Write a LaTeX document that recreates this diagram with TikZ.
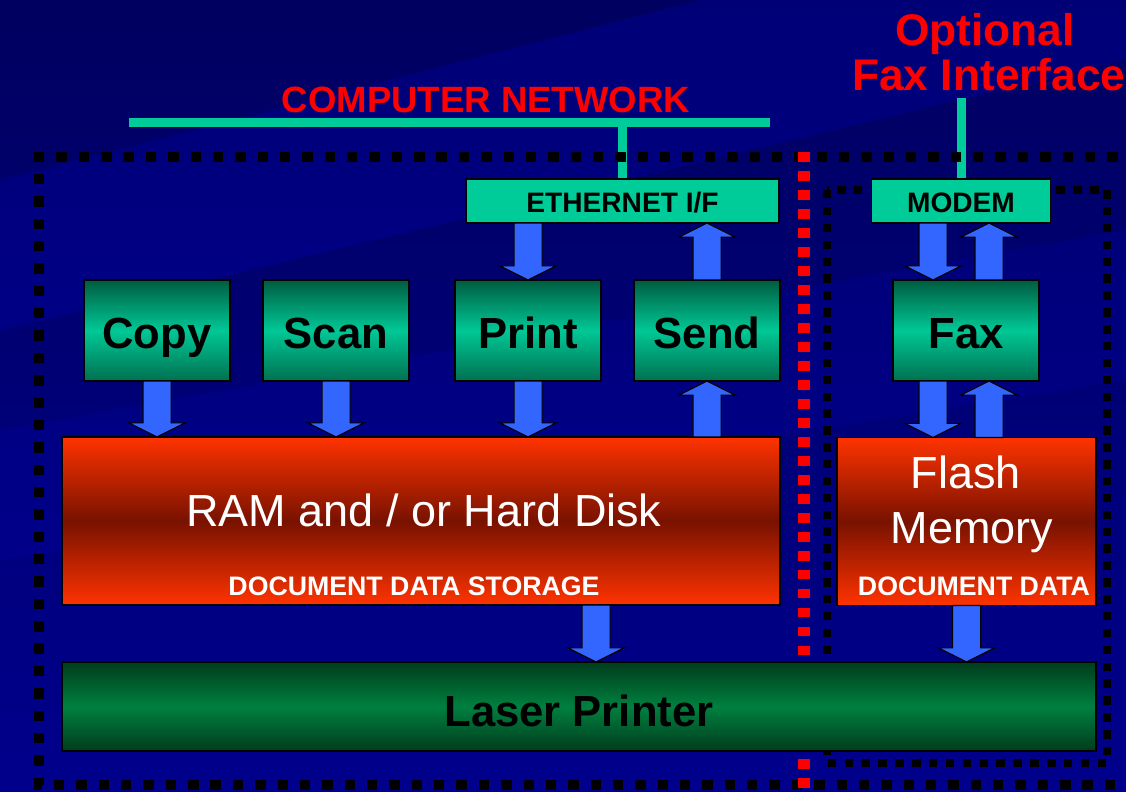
\documentclass[tikz,border=0pt]{standalone}
\usepackage{fontspec}
\setmainfont{Liberation Sans}
\usetikzlibrary{calc}

\definecolor{navytop}{HTML}{000060}
\definecolor{navybot}{HTML}{00008C}
\definecolor{netteal}{HTML}{00CC99}
\definecolor{arrowblue}{HTML}{3366FF}
\definecolor{funcdark}{HTML}{005C40}
\definecolor{funclight}{HTML}{00C896}
\definecolor{funclow}{HTML}{007050}
\definecolor{memtop}{HTML}{FF3300}
\definecolor{memmid}{HTML}{781200}
\definecolor{printdark}{HTML}{003C1C}
\definecolor{printmid}{HTML}{008040}

\pgfdeclarelayer{bg}
\pgfdeclarelayer{lines}
\pgfsetlayers{bg,lines,main}

% block arrow: sign (+ down, - up), from, to
\newcommand{\blkarrow}[3]{%
  \draw[blockarrow] let \p1=#2, \p2=#3 in
    ({\x1-10pt},\y1) -- ({\x1-10pt},{\y2 #1 10pt}) -- ({\x1-20pt},{\y2 #1 10pt})
    -- (\x1,\y2) -- ({\x1+20pt},{\y2 #1 10pt}) -- ({\x1+10pt},{\y2 #1 10pt})
    -- ({\x1+10pt},\y1) -- cycle;}

\begin{document}
\begin{tikzpicture}[x=0.025cm,y=-0.025cm,
funcnode/.style={draw=black, line width=1pt, top color=funcdark, bottom color=funclow, middle color=funclight,
  minimum width=3.65cm, minimum height=2.525cm, inner sep=0pt, outer sep=0pt,
  font=\bfseries\fontsize{31}{31}\selectfont, text height=26pt, text depth=0pt},
ifnode/.style={draw=black, line width=1pt, fill=netteal, minimum height=1.1cm, inner sep=0pt, outer sep=0pt,
  font=\bfseries\fontsize{20}{20}\selectfont, text height=17pt, text depth=0pt},
memnode/.style={draw=black, line width=1pt, top color=memtop, bottom color=memtop, middle color=memmid,
  minimum height=4.2cm, inner sep=0pt, outer sep=0pt},
printnode/.style={draw=black, line width=1pt, top color=printdark, bottom color=printdark, middle color=printmid,
  minimum width=25.85cm, minimum height=2.225cm, inner sep=0pt, outer sep=0pt,
  font=\bfseries\fontsize{31}{31}\selectfont, text height=28pt, text depth=0pt},
memtext/.style={text=white, font=\fontsize{32}{32}\selectfont, inner sep=0pt},
datatext/.style={text=white, font=\bfseries\fontsize{19}{19}\selectfont, inner sep=0pt},
redtitle/.style={text=red, font=\bfseries\fontsize{26}{26}\selectfont, inner sep=0pt},
faxtitle/.style={text=red, font=\bfseries\fontsize{31.5}{31.5}\selectfont, inner sep=0pt},
netline/.style={netteal, line width=6.4pt},
outerdots/.style={black, line width=7.4pt, dash pattern=on 7.4pt off 8.5pt},
innerdots/.style={black, line width=6pt, dash pattern=on 6pt off 6pt},
reddots/.style={red, line width=8.5pt, dash pattern=on 7pt off 6.5pt},
blockarrow/.style={fill=arrowblue, draw=black, line width=0.8pt, line join=miter}
]
\useasboundingbox (0,0) rectangle (1126,791);

% background
\begin{pgfonlayer}{bg}
\shade[top color=navytop, bottom color=navybot] (0,0) rectangle (1126,791);
\fill[blue!70!navybot, opacity=0.18] (0,180) -- (700,0) -- (1126,0) -- (1126,60) -- (0,330) -- cycle;
\fill[blue!70!navybot, opacity=0.12] (0,430) -- (1126,230) -- (1126,380) -- (0,560) -- cycle;
\end{pgfonlayer}

% boxes
\node [ifnode, minimum width=7.825cm] (ethernet) at (622.5,201) {ETHERNET I/F};
\node [ifnode, minimum width=4.475cm] (modem) at (961,201) {MODEM};

\node [funcnode] (copy) at (157,330.5) {Copy};
\node [funcnode] (scan) at (336,330.5) {Scan};
\node [funcnode] (print) at (528,330.5) {Print};
\node [funcnode] (send) at (707,330.5) {Send};
\node [funcnode] (fax) at (966,330.5) {Fax};

\node [memnode, minimum width=17.95cm] (ram) at (421,521) {};
\node [memnode, minimum width=6.475cm] (flash) at (966.5,521.5) {};
\node [printnode] (laser) at (579,706.5) {Laser Printer};

% texts
\node [memtext, anchor=base] (ramtxt) at (424,526) {RAM and / or Hard Disk};
\node [datatext, anchor=base] (ramdata) at (414,595) {DOCUMENT DATA STORAGE};
\node [memtext, anchor=base] (flashtxt) at (966,488) {Flash};
\node [memtext, anchor=base] (memtxt) at (972,543) {Memory};
\node [datatext, anchor=base] (flashdata) at (974,595) {DOCUMENT DATA};
\node [redtitle, anchor=base] (netlabel) at (486,112) {COMPUTER NETWORK};
\node [faxtitle, anchor=base] (optlabel) at (985,45) {Optional};
\node [faxtitle, anchor=base west] (faxlabel) at (852,90) {Fax Interface};

% network lines and dotted borders
\coordinate (netL) at (129,122);
\coordinate (netR) at (770,122);
\coordinate (faxtop) at (961,98);
\begin{pgfonlayer}{lines}
\draw[netline] (netL) -- (netR);
\draw[netline] (ethernet.north) -- (ethernet.north |- netL);
\draw[netline] (modem.north) -- (faxtop);
\draw[outerdots] (1140,157) -- (39,157) -- (39,785) -- (1140,785);
\draw[innerdots] (827,190) rectangle (1107,763);
\draw[reddots] (804,152) -- (804,795);
\end{pgfonlayer}

% arrows
\coordinate (faxdn) at (933,0);
\coordinate (faxup) at (989,0);
\coordinate (ramout) at (596,0);
\blkarrow{+}{(copy.south)}{(copy.south |- ram.north)}
\blkarrow{+}{(scan.south)}{(scan.south |- ram.north)}
\blkarrow{+}{(print.south)}{(print.south |- ram.north)}
\blkarrow{-}{(send.south |- ram.north)}{(send.south)}
\blkarrow{+}{(ethernet.south -| print)}{(print.north)}
\blkarrow{-}{(send.north)}{(ethernet.south -| send)}
\blkarrow{+}{(modem.south -| faxdn)}{(fax.north -| faxdn)}
\blkarrow{-}{(fax.north -| faxup)}{(modem.south -| faxup)}
\blkarrow{+}{(fax.south -| faxdn)}{(flash.north -| faxdn)}
\blkarrow{-}{(flash.north -| faxup)}{(fax.south -| faxup)}
\blkarrow{+}{(ram.south -| ramout)}{(laser.north -| ramout)}
\blkarrow{+}{(flash.south)}{(flash.south |- laser.north)}

\end{tikzpicture}
\end{document}
